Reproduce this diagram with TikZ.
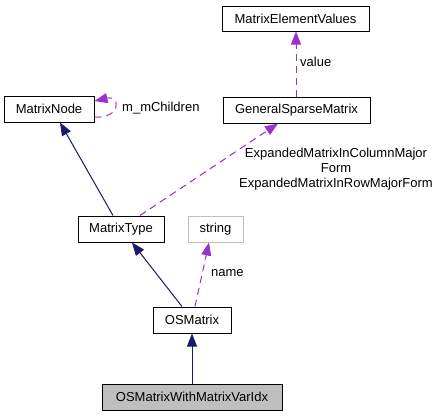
\documentclass[tikz,border=0pt]{standalone}
\usepackage{fontspec}
\setmainfont{Liberation Sans}
\usetikzlibrary{arrows.meta}
\definecolor{edgeblue}{HTML}{191970}
\definecolor{edgepurple}{HTML}{9A32CD}
\definecolor{boxgray}{HTML}{BFBFBF}
\tikzset{
  box/.style={draw=black, line width=1pt, inner sep=0pt, minimum height=26pt, font=\fontsize{13}{15}\selectfont},
  lightbox/.style={box, draw=boxgray},
  inherit/.style={draw=edgeblue, line width=1pt, -{Triangle[length=13pt,width=10pt]}},
  usage/.style={draw=edgepurple, line width=1pt, dash pattern=on 7pt off 5pt, -{Triangle[length=13pt,width=10pt]}},
  lbl/.style={font=\fontsize{13}{15}\selectfont, inner sep=0pt, text=black}
}
\begin{document}
\begin{tikzpicture}[x=1pt,y=-1pt]
\useasboundingbox[fill=white] (0,0) rectangle (440,416);
\node[box, minimum width=147pt, minimum height=25pt] (mev) at (295.5,18.5) {MatrixElementValues};
\node[box, minimum width=147pt] (gsm) at (296.5,110) {GeneralSparseMatrix};
\node[box, minimum width=90pt] (mn) at (49,109) {MatrixNode};
\node[box, minimum width=86pt] (mt) at (121,229) {MatrixType};
\node[lightbox, minimum width=55pt] (str) at (215.5,229) {string};
\node[box, minimum width=78pt] (osm) at (192,320) {OSMatrix};
\node[box, fill=boxgray, minimum width=180pt] (osmw) at (192,397) {OSMatrixWithMatrixVarIdx};

\draw[inherit] (osmw.north) -- (osm.south);
\draw[inherit] (osm.north -| 182,0) -- (mt.south -| 132,0);
\draw[inherit] (mt.north -| 113,0) -- (mn.south -| 60,0);
\draw[usage] (mt.north -| 140,0) -- (gsm.south -| 278,0);
\draw[usage] (gsm.north -| 296,0) -- (mev.south -| 296,0);
\draw[usage] (osm.north -| 195,0) -- (str.south -| 209,0);
\coordinate (loopstart) at (mn.east |- 0,117);
\coordinate (loopend) at (mn.east |- 0,101);
\draw[usage] (loopstart) .. controls (121,119) and (121,95) .. (loopend);

\node[lbl, anchor=west] (lvalue) at (300,62) {value};
\node[lbl, anchor=west] (lname) at (211,273) {name};
\node[lbl, anchor=west] (lchildren) at (122,108) {m\_mChildren};
\node[lbl, align=center] (lexp) at (336,169) {ExpandedMatrixInColumnMajor\\Form\\ExpandedMatrixInRowMajorForm};
\end{tikzpicture}
\end{document}
